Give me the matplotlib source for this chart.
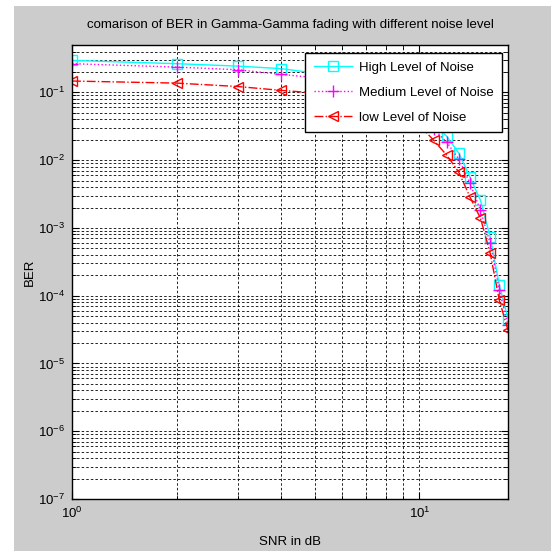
import math
import matplotlib
matplotlib.use("Agg")
import matplotlib.pyplot as plt
from matplotlib.patches import Rectangle
from matplotlib.ticker import LogLocator, FuncFormatter, NullFormatter

# SNR points (dB) and BER (6..11 hidden by legend, estimated)
snr = [1, 2, 3, 4, 5, 6, 7, 8, 9, 10, 11, 12, 13, 14, 15, 16, 17, 18]
ber_high = [0.296, 0.265, 0.244, 0.224, 0.193, 0.165, 0.135, 0.105, 0.077,
            0.053, 0.035, 0.0224, 0.0126, 0.00557, 0.00255, 7.3e-4, 1.42e-4, 4.6e-5]
ber_medium = [0.265, 0.236, 0.216, 0.184, 0.165, 0.145, 0.12, 0.093, 0.068,
              0.046, 0.029, 0.0183, 0.0103, 0.00455, 0.00182, 5.9e-4, 1.2e-4, 3.66e-5]
ber_low = [0.147, 0.137, 0.122, 0.107, 0.098, 0.09, 0.078, 0.064, 0.049,
           0.033, 0.0196, 0.0118, 0.0066, 0.00283, 0.00139, 4.2e-4, 8.5e-5, 3.1e-5]

labels = ['High Level of Noise', 'Medium Level of Noise', 'low Level of Noise']

plt.rcParams['font.family'] = ['Liberation Sans', 'DejaVu Sans']
fs = 9.5

fig = plt.figure(figsize=(5.58, 5.51), dpi=100, facecolor='white')
# grey MATLAB figure panel
fig.patches.append(Rectangle((14 / 558, 0), 537 / 558, 545 / 551,
                             transform=fig.transFigure, facecolor='#cccccc',
                             edgecolor='none', zorder=-10))

ax = fig.add_axes([72 / 558, 1 - 499 / 551, 436 / 558, 454 / 551])
ax.set_facecolor('white')

ax.loglog(snr, ber_high, color='cyan', linestyle='-', marker='s', mfc='none',
          markersize=6.5, linewidth=1, label=labels[0])
ax.loglog(snr, ber_medium, color='magenta', linestyle=':', marker='+',
          markersize=8, linewidth=1, label=labels[1])
ax.loglog(snr, ber_low, color='red', linestyle='-.', marker='<', mfc='none',
          markersize=7, linewidth=1, label=labels[2])

ax.set_xlim(1, 18)
ax.set_ylim(1e-7, 0.5)

def pow10(v, pos):
    e = int(round(math.log10(v)))
    return r'$\mathregular{10^{%d}}$' % e

ax.xaxis.set_major_locator(LogLocator(base=10, numticks=10))
ax.yaxis.set_major_locator(LogLocator(base=10, numticks=12))
ax.xaxis.set_minor_locator(LogLocator(base=10, subs=range(2, 10), numticks=20))
ax.yaxis.set_minor_locator(LogLocator(base=10, subs=range(2, 10), numticks=20))
ax.xaxis.set_major_formatter(FuncFormatter(pow10))
ax.yaxis.set_major_formatter(FuncFormatter(pow10))
ax.xaxis.set_minor_formatter(NullFormatter())
ax.yaxis.set_minor_formatter(NullFormatter())

ax.grid(True, which='both', color='black', linestyle=(0, (3, 2.5)), linewidth=0.6)
ax.tick_params(which='both', direction='in', top=True, right=True, labelsize=fs)
ax.tick_params(which='major', length=5, pad=5)
ax.tick_params(which='minor', length=3)
for s in ax.spines.values():
    s.set_linewidth(1)

ax.set_title('comarison of BER in Gamma-Gamma fading with different noise level',
             fontsize=fs, pad=12)
ax.set_xlabel('SNR in dB', fontsize=fs, labelpad=11)
ax.set_ylabel('BER', fontsize=fs)
ax.yaxis.set_label_coords(-0.082, 0.5)

leg = ax.legend(loc='upper right', bbox_to_anchor=(0.986, 0.982), borderaxespad=0,
                fancybox=False, edgecolor='black', framealpha=1, fontsize=fs,
                handlelength=2.9, handletextpad=0.5, labelspacing=0.95,
                borderpad=0.65)
leg.get_frame().set_linewidth(1)

fig.savefig('out.png', dpi=100, facecolor='white')
